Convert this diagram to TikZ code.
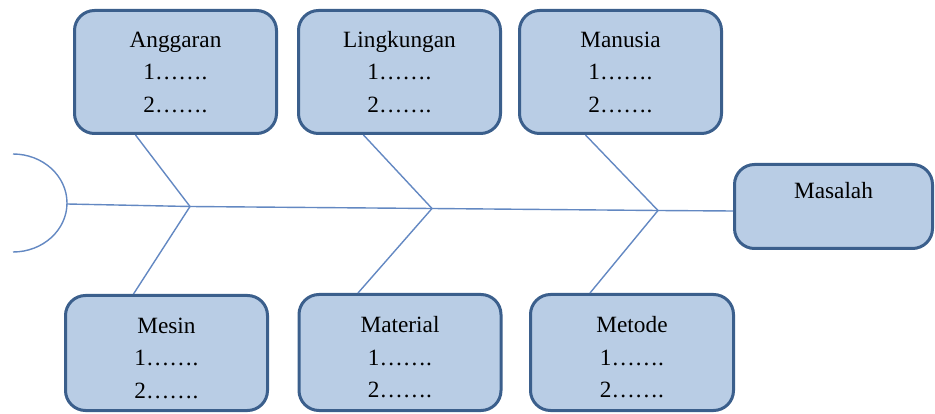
\documentclass[tikz,border=0pt]{standalone}
\usepackage{fontspec}
\setmainfont{Liberation Serif}
\definecolor{boxfill}{HTML}{B9CDE5}
\definecolor{boxline}{HTML}{3B5F8C}
\definecolor{bone}{HTML}{6388C2}
\begin{document}
\begin{tikzpicture}[x=1pt,y=-1pt,
  causebox/.style={draw=boxline, line width=3pt, fill=boxfill, rounded corners=20pt,
    minimum width=202pt, align=center, inner sep=0pt,
    font=\fontsize{23.3}{32.5}\selectfont},
  boneline/.style={draw=bone, line width=1.4pt}]
\useasboundingbox (0,0) rectangle (935,414);

% fish head and spine junctions
\coordinate (tail) at (67,204);
\coordinate (j1) at (190,206.5);
\coordinate (j2) at (432,208.5);
\coordinate (j3) at (658,210.5);

% cause boxes (top row)
\node[causebox, minimum height=123pt] (ang) at (175.5,72) {Anggaran\\1…….\\2…….};
\node[causebox, minimum height=123pt] (lin) at (399.5,72) {Lingkungan\\1…….\\2…….};
\node[causebox, minimum height=123pt] (man) at (620.5,72) {Manusia\\1…….\\2…….};
% cause boxes (bottom row), text set slightly low in the box
\node[causebox, minimum height=115pt] (mes) at (166.5,353) {\\[-7pt]Mesin\\1…….\\2…….};
\node[causebox, minimum height=116pt] (mat) at (400,352.5) {\\[-7pt]Material\\1…….\\2…….};
\node[causebox, minimum height=116pt, minimum width=203pt] (met) at (632,352.5) {\\[-7pt]Metode\\1…….\\2…….};
% effect box
\node[causebox, minimum height=84pt, minimum width=198pt] (mas) at (833.5,206.5) {Masalah\\~};

\draw[boneline] (13,154) arc[start angle=-90, end angle=90, x radius=54, y radius=49];
\draw[boneline] (tail) -- (j1) -- (j2) -- (j3) -- ([yshift=-4.5pt]mas.west);
\draw[boneline] ([xshift=-40pt]ang.south) -- (j1) -- ([xshift=-33pt]mes.north);
\draw[boneline] ([xshift=-36pt]lin.south) -- (j2) -- ([xshift=-42pt]mat.north);
\draw[boneline] ([xshift=-35pt]man.south) -- (j3) -- ([xshift=-42pt]met.north);
\end{tikzpicture}
\end{document}
